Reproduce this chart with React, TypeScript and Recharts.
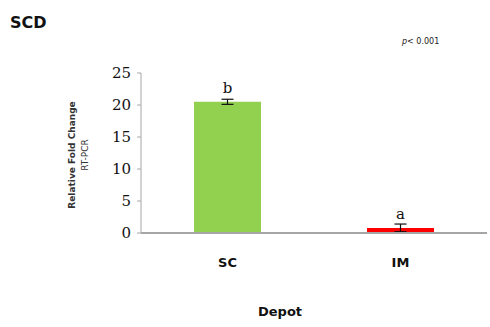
import { BarChart, Bar, XAxis, YAxis, ErrorBar, LabelList, Cell } from 'recharts';

const depots = ['SC', 'IM'];
const foldChange = [20.5, 0.8];
const errors = [0.4, 0.6];
const letters = ['b', 'a'];
const barColors = ['#92d050', '#ff0000'];
const yTicks = [0, 5, 10, 15, 20, 25];

const data = depots.map((d, i) => ({
  depot: d,
  value: foldChange[i],
  err: errors[i],
  letter: letters[i],
}));

const AXIS_GREY = '#a6a6a6';

// two-line rotated y axis title
const YTitle = () => (
  <text
    transform="translate(79,155) rotate(-90)"
    textAnchor="middle"
    fontFamily="'DejaVu Sans', sans-serif"
    fontSize={9}
    fontWeight="bold"
    fill="#333"
  >
    <tspan x={0} dy={-4}>Relative Fold Change</tspan>
    <tspan x={0} dy={13} fontWeight="normal">RT-PCR</tspan>
  </text>
);

export default function App() {
  return (
    <div style={{ position: 'absolute', left: 0, top: 0, width: 490, height: 327, background: '#fff' }}>
      <BarChart
        width={490}
        height={327}
        data={data}
        margin={{ top: 73, right: 3, left: 101, bottom: 64 }}
      >
        <XAxis
          dataKey="depot"
          height={30}
          stroke={AXIS_GREY}
          strokeWidth={2}
          tickLine={false}
          tick={{ fill: '#111', fontSize: 13, fontWeight: 600, fontFamily: "'DejaVu Sans', sans-serif" }}
          tickMargin={19}
        />
        <YAxis
          width={40}
          domain={[0, 25]}
          ticks={yTicks}
          stroke={AXIS_GREY}
          tickSize={4}
          tick={{ fill: '#111', fontSize: 15, fontFamily: "'DejaVu Serif', serif" }}
          tickMargin={6}
        />
        <Bar dataKey="value" barSize={67} isAnimationActive={false}>
          {data.map((entry, index) => (
            <Cell key={`cell-${index}`} fill={barColors[index]} />
          ))}
          <ErrorBar dataKey="err" width={6} stroke="#111" strokeWidth={1.2} />
          <LabelList
            dataKey="letter"
            position="top"
            offset={9}
            fill="#111"
            fontSize={15}
            fontFamily="'DejaVu Serif', serif"
          />
        </Bar>
        <YTitle />
        <text x={10} y={28} fontFamily="'DejaVu Sans', sans-serif" fontWeight="bold" fontSize={16} fill="#111">
          SCD
        </text>
        <text x={402} y={44} fontFamily="'DejaVu Sans', sans-serif" fontSize={8} fill="#222">
          <tspan fontStyle="italic">p</tspan>
          <tspan>{'<  0.001'}</tspan>
        </text>
        <text x={280} y={316} textAnchor="middle" fontFamily="'DejaVu Sans', sans-serif" fontWeight="bold" fontSize={13} fill="#111">
          Depot
        </text>
      </BarChart>
    </div>
  );
}
